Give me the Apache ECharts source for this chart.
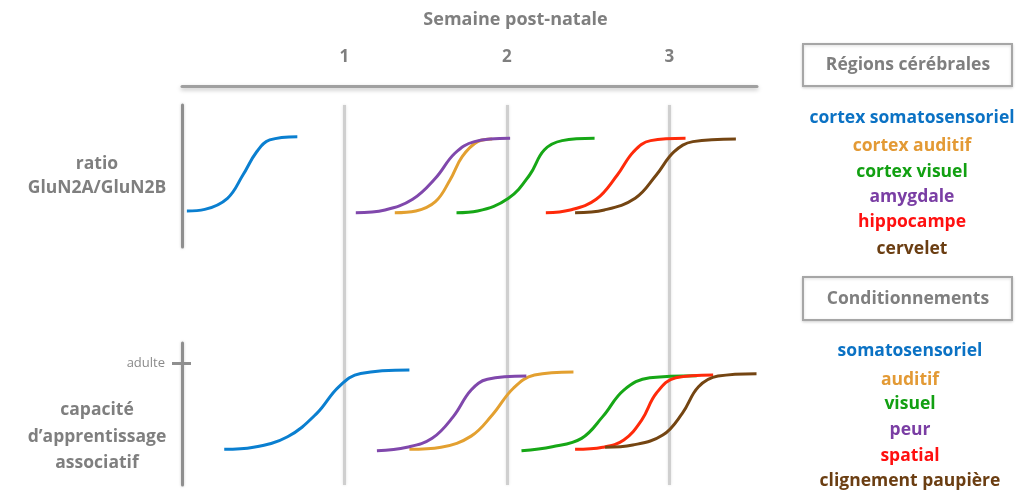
<!DOCTYPE html>
<html>
<head>
<meta charset="utf-8">
<script src="https://cdn.jsdelivr.net/npm/echarts@6/dist/echarts.min.js"></script>
<style>
html,body{margin:0;padding:0;background:#fff;}
#chart{width:1017px;height:492px;}
</style>
</head>
<body>
<div id="chart"></div>
<script>
// ---- Data (weeks post-natal, relative level) ----
const weekTicks = [1, 2, 3];
const regionNames = ['cortex somatosensoriel', 'cortex auditif', 'cortex visuel', 'amygdale', 'hippocampe', 'cervelet'];
const conditionNames = ['somatosensoriel', 'auditif', 'visuel', 'peur', 'spatial', 'clignement paupière'];
const curveColors = ['#0a7fd0', '#e3a030', '#16a716', '#8048ac', '#ff2a0a', '#744512'];
const textColors = ['#0b72c4', '#e39a35', '#12a012', '#7a3ea4', '#ff1010', '#6b3e12'];

// GluN2A/GluN2B ratio (0-100 scale)
const ratioSomato   = [[0.03,25.4],[0.14,26.5],[0.28,34.3],[0.375,50.7],[0.46,67.1],[0.54,75.4],[0.71,77.7]];
const ratioAuditif  = [[1.31,24.2],[1.44,25.4],[1.56,31.9],[1.65,47.2],[1.725,63.6],[1.82,74.2],[1.91,76.1]];
const ratioVisuel   = [[1.69,24.2],[1.82,25.4],[2.01,34.3],[2.14,50.7],[2.23,68.3],[2.34,74.9],[2.54,76.5]];
const ratioAmygdale = [[1.07,24.2],[1.25,26.1],[1.42,33.6],[1.56,48.4],[1.68,66.0],[1.80,74.2],[2.02,76.5]];
const ratioHippo    = [[2.24,24.2],[2.39,26.1],[2.55,33.6],[2.68,50.7],[2.78,67.1],[2.885,74.9],[3.10,76.5]];
const ratioCervelet = [[2.42,24.2],[2.60,26.1],[2.79,34.3],[2.92,50.7],[3.03,67.1],[3.145,74.2],[3.41,76.1]];

// Associative learning capacity (adult level = 6)
const adultLevel = 6;
const learnSomato   = [[0.26,1.76],[0.44,1.86],[0.65,2.38],[0.83,3.53],[0.965,4.84],[1.10,5.50],[1.40,5.67]];
const learnAuditif  = [[1.40,1.76],[1.595,1.86],[1.78,2.41],[1.91,3.45],[2.04,4.77],[2.17,5.42],[2.41,5.57]];
const learnVisuel   = [[2.09,1.69],[2.28,1.89],[2.46,2.30],[2.59,3.37],[2.72,4.68],[2.88,5.29],[3.17,5.39]];
const learnPeur     = [[1.20,1.69],[1.385,1.86],[1.54,2.30],[1.67,3.37],[1.78,4.68],[1.88,5.21],[2.12,5.37]];
const learnSpatial  = [[2.42,1.76],[2.59,1.86],[2.72,2.22],[2.83,3.20],[2.92,4.52],[3.04,5.29],[3.27,5.42]];
const learnPaupiere = [[2.605,1.86],[2.775,1.97],[2.96,2.46],[3.08,3.53],[3.18,4.84],[3.30,5.37],[3.537,5.49]];

const ratioData = [ratioSomato, ratioAuditif, ratioVisuel, ratioAmygdale, ratioHippo, ratioCervelet];
const learnData = [learnSomato, learnAuditif, learnVisuel, learnPeur, learnSpatial, learnPaupiere];

// ---- Chart ----
const FONT = '"Open Sans"';
const GRAY = '#7f7f7f';
const FS = 17.5;
const xMax = 3.54;
const chart = echarts.init(document.getElementById('chart'), null, {renderer: 'canvas'});

const drawOrder = [0, 1, 2, 3, 4, 5];

const hiddenAxis = {show: false, axisLine: {show: false, onZero: false}, axisTick: {show: false}, axisLabel: {show: false}, splitLine: {show: false}};

const series = [{type: 'line', xAxisIndex: 0, yAxisIndex: 0, data: [], silent: true}];
drawOrder.forEach(i => {
  series.push({
    name: regionNames[i], type: 'line', xAxisIndex: 1, yAxisIndex: 1,
    data: ratioData[i], smooth: 0.4, showSymbol: false,
    lineStyle: {color: curveColors[i], width: 3}, itemStyle: {color: curveColors[i]}
  });
});
drawOrder.forEach(i => {
  series.push({
    name: conditionNames[i], type: 'line', xAxisIndex: 2, yAxisIndex: 2,
    data: learnData[i], smooth: 0.4, showSymbol: false,
    lineStyle: {color: curveColors[i], width: 3}, itemStyle: {color: curveColors[i]}
  });
});

const legendText = [];
const regionY = [118, 146, 172, 197, 222, 249];
const condY = [351, 380, 404, 430, 456, 481];
regionNames.forEach((n, i) => legendText.push({
  type: 'text', x: 912, y: regionY[i],
  style: {text: n, fill: textColors[i], font: 'bold ' + FS + 'px ' + FONT, textAlign: 'center', textVerticalAlign: 'middle'}
}));
conditionNames.forEach((n, i) => legendText.push({
  type: 'text', x: 910, y: condY[i],
  style: {text: n, fill: textColors[i], font: 'bold ' + FS + 'px ' + FONT, textAlign: 'center', textVerticalAlign: 'middle'}
}));

const option = {
  backgroundColor: '#fff',
  animation: false,
  grid: [
    {left: 182, top: 105, width: 575, height: 380},
    {left: 182, top: 105, width: 575, height: 142},
    {left: 182, top: 343, width: 575, height: 142}
  ],
  xAxis: [
    {
      gridIndex: 0, type: 'value', min: 0, max: xMax, interval: 1, position: 'top', offset: 19,
      name: 'Semaine post-natale', nameLocation: 'middle', nameGap: 57,
      nameTextStyle: {color: GRAY, fontFamily: FONT, fontWeight: 'bold', fontSize: 18, padding: [0, 0, 0, 92]},
      axisLine: {show: true, onZero: false, lineStyle: {color: '#a0a0a0', width: 3, shadowColor: 'rgba(0,0,0,0.25)', shadowBlur: 4, shadowOffsetY: 2}},
      axisTick: {show: false},
      axisLabel: {show: true, margin: 20, color: GRAY, fontFamily: FONT, fontWeight: 'bold', fontSize: 17,
        showMinLabel: false, showMaxLabel: false,
        formatter: v => weekTicks.indexOf(v) >= 0 ? String(v) : ''},
      splitLine: {show: true, showMinLine: false, showMaxLine: false,
        lineStyle: {color: '#cfcfcf', width: 3, shadowColor: 'rgba(0,0,0,0.12)', shadowBlur: 3}}
    },
    Object.assign({gridIndex: 1, type: 'value', min: 0, max: xMax}, hiddenAxis),
    Object.assign({gridIndex: 2, type: 'value', min: 0, max: xMax}, hiddenAxis)
  ],
  yAxis: [
    Object.assign({gridIndex: 0, type: 'value', min: 0, max: 1}, hiddenAxis),
    {
      gridIndex: 1, type: 'value', min: 0, max: 100,
      name: 'ratio\nGluN2A/GluN2B', nameLocation: 'middle', nameRotate: 0, nameGap: 85,
      nameTextStyle: {color: GRAY, fontFamily: FONT, fontWeight: 'bold', fontSize: FS, lineHeight: 24, align: 'center'},
      axisLine: {show: true, onZero: false, lineStyle: {color: '#8f8f8f', width: 3, shadowColor: 'rgba(0,0,0,0.2)', shadowBlur: 3}},
      axisTick: {show: false}, axisLabel: {show: false}, splitLine: {show: false}
    },
    {
      gridIndex: 2, type: 'value', min: 0, max: 7, position: 'left', offset: 0,
      axisLine: {show: true, onZero: false, lineStyle: {color: '#8f8f8f', width: 3, shadowColor: 'rgba(0,0,0,0.2)', shadowBlur: 3}},
      axisTick: {show: true, customValues: [adultLevel], length: 10, lineStyle: {color: '#8f8f8f', width: 3}},
      axisLabel: {show: true, customValues: [adultLevel], margin: 17, color: '#8a8a8a', fontFamily: FONT, fontSize: 13,
        formatter: v => v === adultLevel ? 'adulte' : ''},
      splitLine: {show: false}
    },
    {
      gridIndex: 2, type: 'value', min: 0, max: 7, position: 'left', offset: 0,
      axisLine: {show: false, onZero: false},
      axisTick: {show: true, inside: true, customValues: [adultLevel], length: 9, lineStyle: {color: '#8f8f8f', width: 3}},
      axisLabel: {show: false}, splitLine: {show: false}
    }
  ],
  graphic: [
    {type: 'text', x: 97, y: 437, style: {text: 'capacité\nd’apprentissage\nassociatif', fill: GRAY, font: 'bold ' + FS + 'px ' + FONT,
      lineHeight: 26.5, textAlign: 'center', textVerticalAlign: 'middle'}},
    {type: 'rect', shape: {x: 803, y: 44, width: 209, height: 42},
      style: {fill: '#fff', stroke: '#a6a6a6', lineWidth: 2, shadowColor: 'rgba(0,0,0,0.15)', shadowBlur: 3, shadowOffsetY: 1}},
    {type: 'text', x: 908, y: 65, style: {text: 'Régions cérébrales', fill: GRAY, font: 'bold ' + FS + 'px ' + FONT, textAlign: 'center', textVerticalAlign: 'middle'}},
    {type: 'rect', shape: {x: 803, y: 277, width: 209, height: 43},
      style: {fill: '#fff', stroke: '#a6a6a6', lineWidth: 2, shadowColor: 'rgba(0,0,0,0.15)', shadowBlur: 3, shadowOffsetY: 1}},
    {type: 'text', x: 908, y: 299, style: {text: 'Conditionnements', fill: GRAY, font: 'bold ' + FS + 'px ' + FONT, textAlign: 'center', textVerticalAlign: 'middle'}}
  ].concat(legendText),
  series: series
};
chart.setOption(option);
</script>
</body>
</html>
